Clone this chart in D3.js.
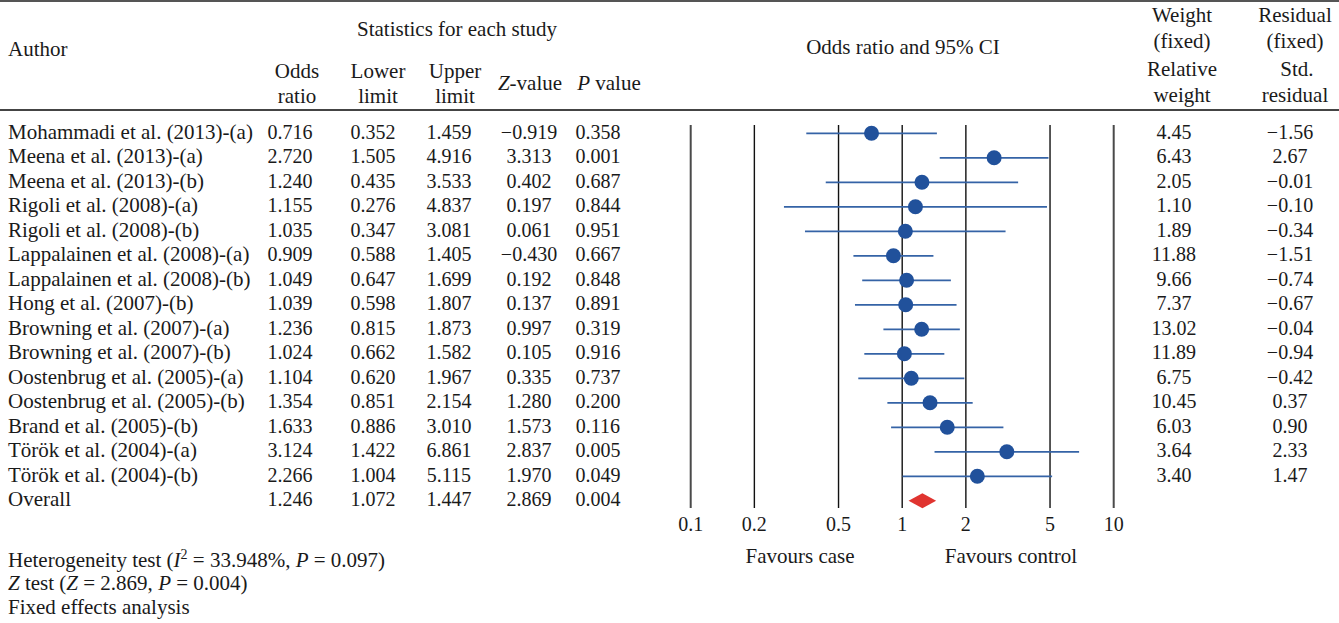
<!DOCTYPE html>
<html>
<head>
<meta charset="utf-8">
<script src="https://cdn.jsdelivr.net/npm/d3@7"></script>
<style>
  html, body { margin: 0; padding: 0; background: #fff; }
  svg text { font-family: "Liberation Serif", "Times New Roman", serif; fill: #1a1a1a; }
</style>
</head>
<body>
<div id="chart"></div>
<script>
// study rows
const authors = [
    "Mohammadi et al. (2013)-(a)", "Meena et al. (2013)-(a)", "Meena et al. (2013)-(b)",
    "Rigoli et al. (2008)-(a)", "Rigoli et al. (2008)-(b)", "Lappalainen et al. (2008)-(a)",
    "Lappalainen et al. (2008)-(b)", "Hong et al. (2007)-(b)", "Browning et al. (2007)-(a)",
    "Browning et al. (2007)-(b)", "Oostenbrug et al. (2005)-(a)", "Oostenbrug et al. (2005)-(b)",
    "Brand et al. (2005)-(b)", "Török et al. (2004)-(a)", "Török et al. (2004)-(b)"
];
const oddsRatio = [0.716, 2.720, 1.240, 1.155, 1.035, 0.909, 1.049, 1.039, 1.236, 1.024, 1.104, 1.354, 1.633, 3.124, 2.266];
const lowerLimit = [0.352, 1.505, 0.435, 0.276, 0.347, 0.588, 0.647, 0.598, 0.815, 0.662, 0.620, 0.851, 0.886, 1.422, 1.004];
const upperLimit = [1.459, 4.916, 3.533, 4.837, 3.081, 1.405, 1.699, 1.807, 1.873, 1.582, 1.967, 2.154, 3.010, 6.861, 5.115];
const zValue = [-0.919, 3.313, 0.402, 0.197, 0.061, -0.430, 0.192, 0.137, 0.997, 0.105, 0.335, 1.280, 1.573, 2.837, 1.970];
const pValue = [0.358, 0.001, 0.687, 0.844, 0.951, 0.667, 0.848, 0.891, 0.319, 0.916, 0.737, 0.200, 0.116, 0.005, 0.049];
const relWeight = [4.45, 6.43, 2.05, 1.10, 1.89, 11.88, 9.66, 7.37, 13.02, 11.89, 6.75, 10.45, 6.03, 3.64, 3.40];
const stdResidual = [-1.56, 2.67, -0.01, -0.10, -0.34, -1.51, -0.74, -0.67, -0.04, -0.94, -0.42, 0.37, 0.90, 2.33, 1.47];

// pooled (fixed effects)
const overall = { or: 1.246, lower: 1.072, upper: 1.447, z: 2.869, p: 0.004 };

const axisTicks = [0.1, 0.2, 0.5, 1, 2, 5, 10];

const width = 1339, height = 623;
const fontSize = 20;      // numbers
const wordSize = 21;      // words / headers

const svg = d3.select("#chart").append("svg")
    .attr("width", width)
    .attr("height", height)
    .style("display", "block");

const x = d3.scaleLog().domain([0.1, 10]).range([690.7, 1113.7]);
const y = d3.scalePoint()
    .domain(d3.range(authors.length + 1))
    .range([133.3, 133.3 + 24.5 * authors.length]);

const f3 = v => (v < 0 ? "\u2212" : "") + d3.format(".3f")(Math.abs(v));
const f2 = v => (v < 0 ? "\u2212" : "") + d3.format(".2f")(Math.abs(v));

// rules
svg.append("line").attr("x1", 0).attr("x2", width).attr("y1", 1).attr("y2", 1)
    .attr("stroke", "#555").attr("stroke-width", 2);
svg.append("line").attr("x1", 0).attr("x2", width).attr("y1", 110).attr("y2", 110)
    .attr("stroke", "#444").attr("stroke-width", 2);

// plain text helper
function label(txt, px, py, anchor, size) {
    return svg.append("text")
        .attr("x", px).attr("y", py)
        .attr("font-size", size || wordSize)
        .attr("text-anchor", anchor || "middle")
        .text(txt);
}
label("Statistics for each study", 457, 36);
label("Author", 8, 56, "start");
label("Odds", 297, 78); label("ratio", 297, 103);
label("Lower", 378, 78); label("limit", 378, 103);
label("Upper", 455, 78); label("limit", 455, 103);

const zh = svg.append("text").attr("x", 530).attr("y", 90).attr("font-size", wordSize).attr("text-anchor", "middle");
zh.append("tspan").attr("font-style", "italic").text("Z");
zh.append("tspan").text("-value");
const ph = svg.append("text").attr("x", 609).attr("y", 90).attr("font-size", wordSize).attr("text-anchor", "middle");
ph.append("tspan").attr("font-style", "italic").text("P");
ph.append("tspan").text(" value");

label("Odds ratio and 95% CI", 903, 54);
label("Weight", 1182, 22); label("(fixed)", 1182, 48);
label("Relative", 1182, 76); label("weight", 1182, 102);
label("Residual", 1295, 22); label("(fixed)", 1295, 48);
label("Std.", 1297, 76); label("residual", 1295, 102);

// table body
const rows = authors.map((a, i) => ({
    i, author: a, or: oddsRatio[i], lo: lowerLimit[i], hi: upperLimit[i],
    z: zValue[i], p: pValue[i], w: relWeight[i], r: stdResidual[i]
}));

const cols = [
    { key: "author", x: 8, anchor: "start", size: wordSize, f: d => d },
    { key: "or", x: 290, f: f3 },
    { key: "lo", x: 373, f: f3 },
    { key: "hi", x: 449, f: f3 },
    { key: "z", x: 529, f: f3 },
    { key: "p", x: 598, f: f3 },
    { key: "w", x: 1174, f: f2 },
    { key: "r", x: 1290, f: f2 }
];
const body = svg.append("g").attr("class", "table-body");
cols.forEach(c => {
    body.append("g").selectAll("text")
        .data(rows)
        .enter().append("text")
        .attr("x", c.x)
        .attr("y", d => y(d.i) + 5.5)
        .attr("font-size", c.size || fontSize)
        .attr("text-anchor", c.anchor || "middle")
        .text(d => c.f(d[c.key]));
});

// overall row
const oy = y(authors.length) + 5.5;
label("Overall", 8, oy, "start");
[[overall.or, 290], [overall.lower, 373], [overall.upper, 449], [overall.z, 529], [overall.p, 598]]
    .forEach(c => label(f3(c[0]), c[1], oy, "middle", fontSize));

// forest plot grid
const plot = svg.append("g").attr("class", "forest");
plot.selectAll("line.grid")
    .data(axisTicks)
    .enter().append("line")
    .attr("class", "grid")
    .attr("x1", d => x(d)).attr("x2", d => x(d))
    .attr("y1", 125).attr("y2", 508)
    .attr("stroke", d => (d === 0.1 || d === 10) ? "#4a4a4a" : "#111")
    .attr("stroke-width", d => (d === 0.1 || d === 10) ? 2 : 1.4);

plot.selectAll("text.tick")
    .data(axisTicks)
    .enter().append("text")
    .attr("class", "tick")
    .attr("x", d => x(d))
    .attr("y", 531)
    .attr("font-size", fontSize)
    .attr("text-anchor", "middle")
    .text(d => d);

// confidence intervals
plot.append("g").selectAll("line")
    .data(rows)
    .enter().append("line")
    .attr("x1", d => x(d.lo)).attr("x2", d => x(d.hi))
    .attr("y1", d => y(d.i)).attr("y2", d => y(d.i))
    .attr("stroke", "#3563a6")
    .attr("stroke-width", 1.8);

plot.append("g").selectAll("circle")
    .data(rows)
    .enter().append("circle")
    .attr("cx", d => x(d.or))
    .attr("cy", d => y(d.i))
    .attr("r", 7.5)
    .attr("fill", "#21519b");

// pooled diamond
const dy = y(authors.length);
plot.append("path")
    .attr("d", `M${x(overall.lower)},${dy}L${x(overall.or)},${dy - 7.5}L${x(overall.upper)},${dy}L${x(overall.or)},${dy + 7.5}Z`)
    .attr("fill", "#e03430");

label("Favours case", 800, 563);
label("Favours control", 1011, 563);

// footer notes
const h1 = svg.append("text").attr("x", 8).attr("y", 567).attr("font-size", wordSize);
h1.append("tspan").text("Heterogeneity test (");
h1.append("tspan").attr("font-style", "italic").text("I");
h1.append("tspan").attr("font-size", 14).attr("dy", -8).text("2");
h1.append("tspan").attr("dy", 8).text(" = 33.948%, ");
h1.append("tspan").attr("font-style", "italic").text("P");
h1.append("tspan").text(" = 0.097)");

const h2 = svg.append("text").attr("x", 8).attr("y", 590).attr("font-size", wordSize);
h2.append("tspan").attr("font-style", "italic").text("Z");
h2.append("tspan").text(" test (");
h2.append("tspan").attr("font-style", "italic").text("Z");
h2.append("tspan").text(" = 2.869, ");
h2.append("tspan").attr("font-style", "italic").text("P");
h2.append("tspan").text(" = 0.004)");

label("Fixed effects analysis", 8, 614, "start");
</script>
</body>
</html>
